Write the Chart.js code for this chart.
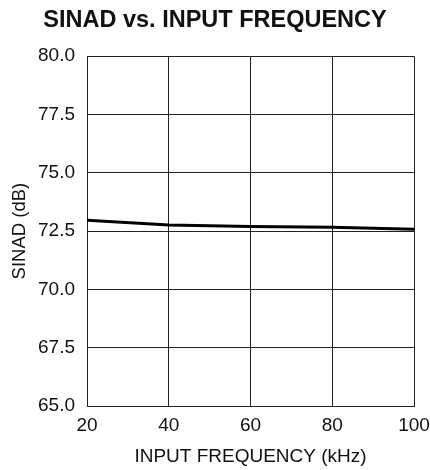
<!DOCTYPE html>
<html>
<head>
<meta charset="utf-8">
<script src="https://cdn.jsdelivr.net/npm/chart.js@4"></script>
<style>
  html, body { margin: 0; padding: 0; background: #fff; }
  #wrap { width: 430px; height: 470px; }
</style>
</head>
<body>
<div id="wrap"><canvas id="sinadChart" width="430" height="470"></canvas></div>
<script>
// Measured SINAD against input frequency
const freqKHz = [20, 40, 60, 80, 100];
const sinadDb = [72.97, 72.76, 72.7, 72.66, 72.58];
const xTicks = [20, 40, 60, 80, 100];
const yTicks = [65, 67.5, 70, 72.5, 75, 77.5, 80];

const FONT = "'Liberation Sans', Arial, sans-serif";
const INK = '#111';

const ctx = document.getElementById('sinadChart');

new Chart(ctx, {
  type: 'line',
  data: {
    datasets: [{
      data: freqKHz.map((f, i) => ({ x: f, y: sinadDb[i] })),
      borderColor: '#000',
      borderWidth: 3,
      pointRadius: 0,
      tension: 0,
      fill: false
    }]
  },
  options: {
    responsive: false,
    animation: false,
    layout: { padding: 0 },
    plugins: {
      legend: { display: false },
      tooltip: { enabled: false },
      title: {
        display: true,
        text: 'SINAD vs. INPUT FREQUENCY',
        color: INK,
        font: { family: FONT, size: 23.5, weight: 'bold', lineHeight: 1.2 },
        padding: { top: 6, bottom: 22 }
      }
    },
    scales: {
      x: {
        type: 'linear',
        min: 20,
        max: 100,
        afterBuildTicks: (scale) => { scale.ticks = xTicks.map(v => ({ value: v })); },
        afterFit: (scale) => {
          scale.height = 64;
          // fixed gap on the right instead of the label-based one
          scale.paddingLeft = 0;
          scale.paddingRight = 16;
        },
        grid: { color: '#222', lineWidth: 1, drawTicks: false },
        border: { display: true, color: '#222', width: 1 },
        ticks: {
          color: INK,
          padding: 8,
          maxRotation: 0,
          font: { family: FONT, size: 19 }
        },
        title: {
          display: true,
          text: 'INPUT FREQUENCY (kHz)',
          color: INK,
          font: { family: FONT, size: 19 },
          padding: { top: 4, bottom: 2 }
        }
      },
      y: {
        min: 65,
        max: 80,
        afterBuildTicks: (scale) => { scale.ticks = yTicks.map(v => ({ value: v })); },
        afterFit: (scale) => { scale.width = 87; },
        grid: { color: '#222', lineWidth: 1, drawTicks: false },
        border: { display: true, color: '#222', width: 1 },
        ticks: {
          color: INK,
          padding: 12,
          font: { family: FONT, size: 19 },
          callback: (v) => Number(v).toFixed(1)
        },
        title: {
          display: true,
          text: 'SINAD (dB)',
          color: INK,
          font: { family: FONT, size: 18.5 },
          padding: { top: 9, bottom: 0 }
        }
      }
    }
  }
});
</script>
</body>
</html>
